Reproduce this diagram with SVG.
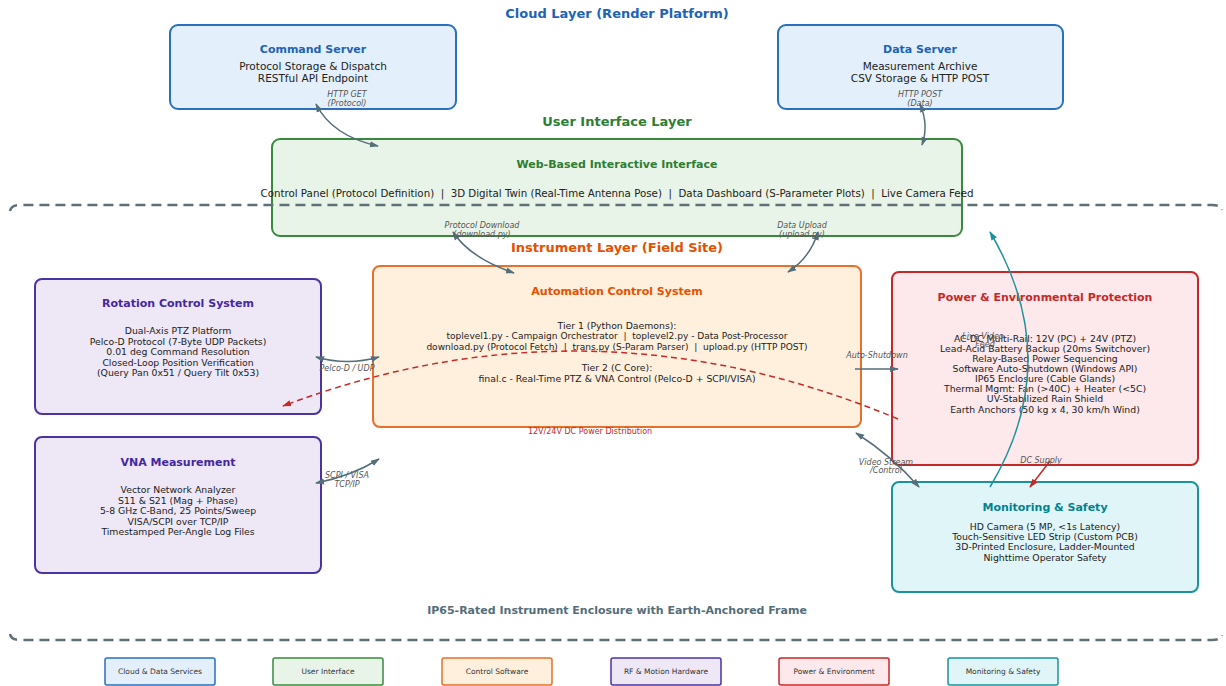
<svg xmlns="http://www.w3.org/2000/svg" width="1226" height="686" viewBox="0 0 1226 686">
<defs>
<style>
text{font-family:"DejaVu Sans","Liberation Sans",sans-serif;text-anchor:middle;fill:#222}
.pre{white-space:pre}
.layer{font-size:13px;font-weight:bold}
.title{font-size:11px;font-weight:bold}
.body{font-size:9.3px}
.srv{font-size:10.5px}
.lbl{font-size:8px;font-style:italic;fill:#555}
.leg{font-size:7.5px;fill:#333}
.box{stroke-width:2}
.conn{fill:none;stroke:#546e7a;stroke-width:1.5}
.blue{fill:#e3f0fb;stroke:#2a6fc0}
.green{fill:#e7f4e7;stroke:#3a8a3e}
.orange{fill:#fff0de;stroke:#e8702a}
.purple{fill:#ede7f6;stroke:#4b33a3}
.red{fill:#fde8eb;stroke:#c62828}
.teal{fill:#e0f5f7;stroke:#1b939b}
</style>
<marker id="ag" viewBox="0 0 10 10" refX="9" refY="5" markerWidth="9" markerHeight="9" markerUnits="userSpaceOnUse" orient="auto-start-reverse"><path d="M0,1.5 L10,5 L0,8.5 z" fill="#546e7a"/></marker>
<marker id="ar" viewBox="0 0 10 10" refX="9" refY="5" markerWidth="9" markerHeight="9" markerUnits="userSpaceOnUse" orient="auto-start-reverse"><path d="M0,1.5 L10,5 L0,8.5 z" fill="#c62828"/></marker>
<marker id="at" viewBox="0 0 10 10" refX="9" refY="5" markerWidth="9" markerHeight="9" markerUnits="userSpaceOnUse" orient="auto-start-reverse"><path d="M0,1.5 L10,5 L0,8.5 z" fill="#1b939b"/></marker>
</defs>
<rect width="1226" height="686" fill="#ffffff"/>

<text class="layer" x="617" y="18" style="fill:#1e63b5">Cloud Layer (Render Platform)</text>
<text class="layer" x="617" y="126" style="fill:#2e7d32">User Interface Layer</text>

<g id="command-server">
<rect class="box blue" x="170" y="25" width="286" height="84" rx="8"/>
<text class="title" x="313" y="53" style="fill:#1e63b5">Command Server</text>
<text class="srv" x="313" y="70">Protocol Storage &amp; Dispatch</text>
<text class="srv" x="313" y="82">RESTful API Endpoint</text>
</g>
<g id="data-server">
<rect class="box blue" x="778" y="25" width="285" height="84" rx="8"/>
<text class="title" x="920" y="53" style="fill:#1e63b5">Data Server</text>
<text class="srv" x="920" y="70">Measurement Archive</text>
<text class="srv" x="920" y="82">CSV Storage &amp; HTTP POST</text>
</g>

<g id="web-interface">
<rect class="box green" x="272" y="139" width="690" height="97" rx="8"/>
<text class="title" x="617" y="168" style="fill:#2e7d32">Web-Based Interactive Interface</text>
</g>

<g id="enclosure">
<path d="M10,211 Q11,205 20,205 H1212 Q1221,205 1222,210" fill="none" stroke="#5f7078" stroke-width="2.5" stroke-dasharray="10,6"/>
<path d="M10,634 Q11,640 20,640 H1212 Q1221,640 1222,635" fill="none" stroke="#5f7078" stroke-width="2.5" stroke-dasharray="10,6"/>
<text x="617" y="614" style="font-size:11px;font-weight:bold;fill:#546e7a">IP65-Rated Instrument Enclosure with Earth-Anchored Frame</text>
</g>
<text class="pre" x="617" y="197" style="font-size:10.5px" textLength="713" lengthAdjust="spacingAndGlyphs">Control Panel (Protocol Definition)  |  3D Digital Twin (Real-Time Antenna Pose)  |  Data Dashboard (S-Parameter Plots)  |  Live Camera Feed</text>

<text class="layer" x="617" y="252" style="fill:#e65100">Instrument Layer (Field Site)</text>

<g id="rotation-control">
<rect class="box purple" x="35" y="279" width="286" height="135" rx="7"/>
<text class="title" x="178" y="307" style="fill:#4527a0">Rotation Control System</text>
<text class="body" x="178" y="334">Dual-Axis PTZ Platform</text>
<text class="body" x="178" y="344.5">Pelco-D Protocol (7-Byte UDP Packets)</text>
<text class="body" x="178" y="355">0.01 deg Command Resolution</text>
<text class="body" x="178" y="365.5">Closed-Loop Position Verification</text>
<text class="body" x="178" y="376">(Query Pan 0x51 / Query Tilt 0x53)</text>
</g>

<g id="vna">
<rect class="box purple" x="35" y="437" width="286" height="136" rx="7"/>
<text class="title" x="178" y="466" style="fill:#4527a0">VNA Measurement</text>
<text class="body" x="178" y="493">Vector Network Analyzer</text>
<text class="body" x="178" y="503.5">S11 &amp; S21 (Mag + Phase)</text>
<text class="body" x="178" y="514">5-8 GHz C-Band, 25 Points/Sweep</text>
<text class="body" x="178" y="524.5">VISA/SCPI over TCP/IP</text>
<text class="body" x="178" y="535">Timestamped Per-Angle Log Files</text>
</g>

<g id="automation">
<rect class="box orange" x="373" y="266" width="488" height="161" rx="7"/>
<text class="title" x="617" y="295" style="fill:#e65100">Automation Control System</text>
<text class="body" x="617" y="328.5">Tier 1 (Python Daemons):</text>
<text class="body pre" x="617" y="339" style="font-size:9.05px">toplevel1.py - Campaign Orchestrator  |  toplevel2.py - Data Post-Processor</text>
<text class="body pre" x="617" y="350" style="font-size:9.05px">download.py (Protocol Fetch)  |  trans.py (S-Param Parser)  |  upload.py (HTTP POST)</text>
<text class="body" x="617" y="370.5">Tier 2 (C Core):</text>
<text class="body" x="617" y="381.5">final.c - Real-Time PTZ &amp; VNA Control (Pelco-D + SCPI/VISA)</text>
</g>

<g id="power">
<rect class="box red" x="892" y="272" width="306" height="193" rx="7"/>
<text class="title" x="1045" y="301" style="fill:#c62828">Power &amp; Environmental Protection</text>
<text class="body" x="1045" y="341.5">AC-DC Multi-Rail: 12V (PC) + 24V (PTZ)</text>
<text class="body" x="1045" y="351.5">Lead-Acid Battery Backup (20ms Switchover)</text>
<text class="body" x="1045" y="361.5">Relay-Based Power Sequencing</text>
<text class="body" x="1045" y="371.5">Software Auto-Shutdown (Windows API)</text>
<text class="body" x="1045" y="381.5">IP65 Enclosure (Cable Glands)</text>
<text class="body" x="1045" y="392">Thermal Mgmt: Fan (&gt;40C) + Heater (&lt;5C)</text>
<text class="body" x="1045" y="402">UV-Stabilized Rain Shield</text>
<text class="body" x="1045" y="412.5">Earth Anchors (50 kg x 4, 30 km/h Wind)</text>
</g>

<g id="monitoring">
<rect class="box teal" x="892" y="482" width="306" height="110" rx="7"/>
<text class="title" x="1045" y="511" style="fill:#00838f">Monitoring &amp; Safety</text>
<text class="body" x="1045" y="529.5">HD Camera (5 MP, &lt;1s Latency)</text>
<text class="body" x="1045" y="540">Touch-Sensitive LED Strip (Custom PCB)</text>
<text class="body" x="1045" y="550">3D-Printed Enclosure, Ladder-Mounted</text>
<text class="body" x="1045" y="560.5">Nighttime Operator Safety</text>
</g>

<g id="connectors">
<path class="conn" d="M316,104 Q332,136 378,146" marker-start="url(#ag)" marker-end="url(#ag)"/>
<text class="lbl" x="347" y="97">HTTP GET</text>
<text class="lbl" x="347" y="106">(Protocol)</text>
<path class="conn" d="M920,104 Q929,125 922,145" marker-start="url(#ag)" marker-end="url(#ag)"/>
<text class="lbl" x="920" y="97">HTTP POST</text>
<text class="lbl" x="920" y="106">(Data)</text>
<path class="conn" d="M453,232 Q470,258 514,273" marker-start="url(#ag)" marker-end="url(#ag)"/>
<text class="lbl" x="482" y="228">Protocol Download</text>
<text class="lbl" x="482" y="237">(download.py)</text>
<path class="conn" d="M818,232 Q810,258 788,272" marker-start="url(#ag)" marker-end="url(#ag)"/>
<text class="lbl" x="802" y="228">Data Upload</text>
<text class="lbl" x="802" y="237">(upload.py)</text>
<path class="conn" d="M316,357 Q347,366 379,357" marker-start="url(#ag)" marker-end="url(#ag)"/>
<text class="lbl" x="347" y="371">Pelco-D / UDP</text>
<path class="conn" d="M316,483 Q352,476 379,459" marker-start="url(#ag)" marker-end="url(#ag)"/>
<text class="lbl" x="347" y="478">SCPI / VISA</text>
<text class="lbl" x="347" y="487">TCP/IP</text>
<path class="conn" d="M855,369 H898" marker-end="url(#ag)"/>
<text class="lbl" x="877" y="358">Auto-Shutdown</text>
<path class="conn" d="M856,433 Q892,456 919,487" marker-start="url(#ag)" marker-end="url(#ag)"/>
<text class="lbl" x="886" y="465">Video Stream</text>
<text class="lbl" x="886" y="473">/Control</text>
<path d="M898,419 Q590,290 283,406" fill="none" stroke="#c62828" stroke-width="1.5" stroke-dasharray="6,4" marker-end="url(#ar)"/>
<text x="590" y="434" style="font-size:8px;fill:#c62828">12V/24V DC Power Distribution</text>
<path d="M1050,461 L1030,487" fill="none" stroke="#c62828" stroke-width="1.5" marker-end="url(#ar)"/>
<text class="lbl" x="1041" y="463">DC Supply</text>
<path d="M990,487 Q1066,360 990,232" fill="none" stroke="#1b939b" stroke-width="1.5" marker-end="url(#at)"/>
<text class="lbl" x="983" y="339">Live Video</text>
<text class="lbl" x="985" y="347">Feed</text>
</g>

<g id="legend">
<rect class="blue" x="105" y="658" width="110" height="27" rx="2" stroke-width="1.5"/>
<text class="leg" x="160" y="674">Cloud &amp; Data Services</text>
<rect class="green" x="273" y="658" width="110" height="27" rx="2" stroke-width="1.5"/>
<text class="leg" x="328" y="674">User Interface</text>
<rect class="orange" x="442" y="658" width="110" height="27" rx="2" stroke-width="1.5"/>
<text class="leg" x="497" y="674">Control Software</text>
<rect class="purple" x="611" y="658" width="110" height="27" rx="2" stroke-width="1.5"/>
<text class="leg" x="666" y="674">RF &amp; Motion Hardware</text>
<rect class="red" x="779" y="658" width="110" height="27" rx="2" stroke-width="1.5"/>
<text class="leg" x="834" y="674">Power &amp; Environment</text>
<rect class="teal" x="948" y="658" width="110" height="27" rx="2" stroke-width="1.5"/>
<text class="leg" x="1003" y="674">Monitoring &amp; Safety</text>
</g>
</svg>
